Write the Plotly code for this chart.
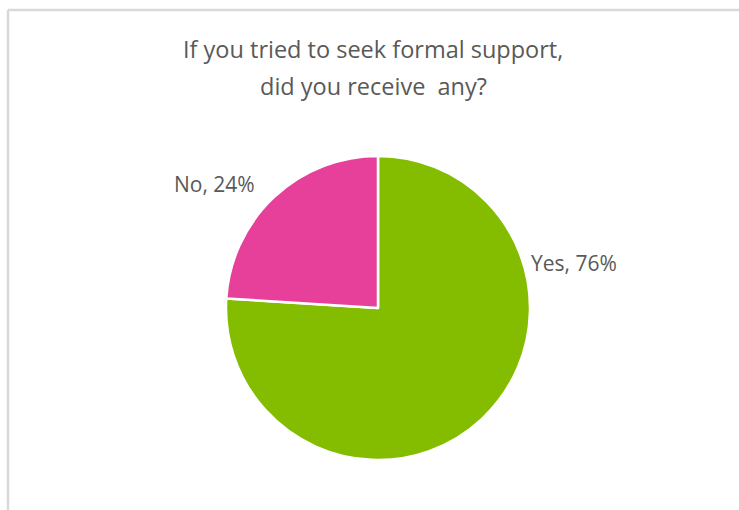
import plotly.graph_objects as go

# Survey answers
answers = ["Yes", "No"]
shares = [76, 24]
slice_colors = ["#84BC00", "#E6409A"]

title_lines = ["If you tried to seek formal support,", "did you receive  any?"]

W, H = 739, 510
FONT = "Open Sans, Carlito, Calibri, sans-serif"
TEXT_GREY = "#595959"

fig = go.Figure()

fig.add_trace(go.Pie(
    labels=answers,
    values=shares,
    sort=False,
    direction="clockwise",
    rotation=0,
    marker=dict(colors=slice_colors, line=dict(color="white", width=2.5)),
    textinfo="none",
    hoverinfo="label+percent",
    showlegend=False,
    domain=dict(x=[226 / W, 530 / W], y=[1 - 460 / H, 1 - 156 / H]),
))

# Category labels beside the slices
total = sum(shares)
label_pos = {"Yes": (574, 263), "No": (214, 184)}
for name, val in zip(answers, shares):
    px, py = label_pos[name]
    fig.add_annotation(
        x=px / W, y=1 - py / H, xref="paper", yref="paper",
        text=f"{name}, {round(100 * val / total)}%",
        showarrow=False, xanchor="center", yanchor="middle",
        font=dict(family=FONT, size=21, color=TEXT_GREY),
    )

# Two-line chart title, set line by line for wider leading
for line, py in zip(title_lines, [49, 86]):
    fig.add_annotation(
        x=373 / W, y=1 - py / H, xref="paper", yref="paper",
        text=line, showarrow=False, xanchor="center", yanchor="middle",
        font=dict(family=FONT, size=23.5, color=TEXT_GREY),
    )

# Chart area frame (top and left edges)
frame = dict(color="#D9D9D9", width=2.5)
fig.add_shape(type="line", xref="paper", yref="paper",
              x0=8 / W, x1=1.0, y0=1 - 10 / H, y1=1 - 10 / H, line=frame)
fig.add_shape(type="line", xref="paper", yref="paper",
              x0=8 / W, x1=8 / W, y0=1 - 10 / H, y1=0, line=frame)

fig.update_layout(
    width=W, height=H,
    margin=dict(l=0, r=0, t=0, b=0),
    paper_bgcolor="white",
    plot_bgcolor="white",
)

fig.write_html("out.html")
